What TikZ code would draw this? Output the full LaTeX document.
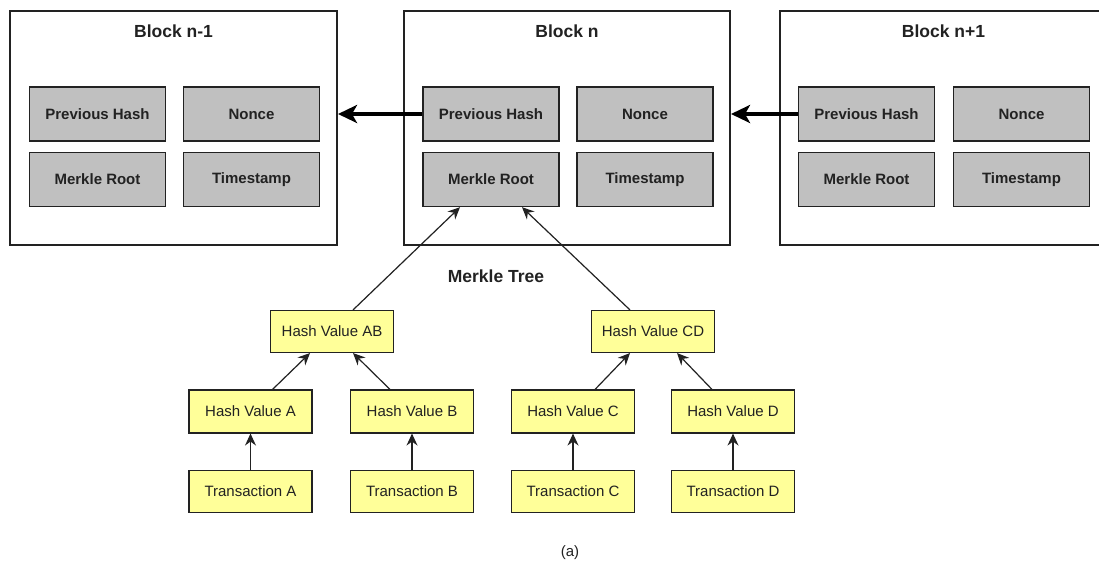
\documentclass[tikz,border=0pt]{standalone}
\usepackage{fontspec}
\setmainfont{Liberation Sans}
\usetikzlibrary{arrows.meta}
\definecolor{fieldgrey}{RGB}{192,192,192}
\definecolor{hashyellow}{RGB}{255,255,153}
\definecolor{edge}{RGB}{34,34,34}
\tikzset{
  blockbox/.style={draw=edge, line width=2pt, fill=white, minimum width=327pt, minimum height=234pt, inner sep=0pt},
  blocktitle/.style={font=\bfseries\fontsize{17.5}{21}\selectfont, text=edge},
  fieldbox/.style={draw=edge, line width=1.4pt, fill=fieldgrey, minimum width=136pt, minimum height=54pt, inner sep=0pt, font=\bfseries\fontsize{15}{18}\selectfont, text=edge},
  hashbox/.style={draw=edge, line width=1.1pt, fill=hashyellow, minimum width=123pt, minimum height=42pt, inner sep=0pt, font=\fontsize{15}{18}\selectfont, text=edge},
  linkarrow/.style={draw=black, line width=4.5pt, -{Stealth[length=19pt, width=18pt, inset=5pt]}},
  treearrow/.style={draw=edge, line width=1.2pt, -{Stealth[length=12pt, width=11pt, inset=4pt]}},
  plainlabel/.style={font=\fontsize{15}{18}\selectfont, text=edge}
}
\begin{document}
\begin{tikzpicture}[x=1pt, y=-1pt]
  \useasboundingbox (0,0) rectangle (1099,565);
  \clip (0,0) rectangle (1099,565);
  \fill[white] (0,0) rectangle (1099,565);

  % three consecutive blocks
  \node[blockbox] (blkA) at (173.5,128) {};
  \node[blockbox, minimum width=326pt] (blkB) at (567,128) {};
  \node[blockbox] (blkC) at (943.5,128) {};

  \node[blocktitle] (titleA) at (173.5,31) {Block n-1};
  \node[blocktitle] (titleB) at (567,31) {Block n};
  \node[blocktitle] (titleC) at (943.5,31) {Block n+1};

  % header fields of each block
  \node[fieldbox] (phA) at (97.5,114) {Previous Hash};
  \node[fieldbox] (ncA) at (251.5,114) {Nonce};
  \node[fieldbox] (mrA) at (97.5,179.5) {Merkle Root};
  \node[fieldbox] (tsA) at (251.5,179.5) {Timestamp};

  \node[fieldbox] (phB) at (491,114) {Previous Hash};
  \node[fieldbox] (ncB) at (645,114) {Nonce};
  \node[fieldbox] (mrB) at (491,179.5) {Merkle Root};
  \node[fieldbox] (tsB) at (645,179.5) {Timestamp};

  \node[fieldbox] (phC) at (866.5,114) {Previous Hash};
  \node[fieldbox] (ncC) at (1021.5,114) {Nonce};
  \node[fieldbox] (mrC) at (866.5,179.5) {Merkle Root};
  \node[fieldbox] (tsC) at (1021.5,179.5) {Timestamp};

  % chain links
  \draw[linkarrow] (phB.west) -- (blkA.east |- phB.west);
  \draw[linkarrow] (phC.west) -- (blkB.east |- phC.west);

  % Merkle tree
  \node[blocktitle] (treetitle) at (496,276) {Merkle Tree};

  \node[hashbox] (hAB) at (332,331.5) {Hash Value AB};
  \node[hashbox] (hCD) at (653,331.5) {Hash Value CD};

  \node[hashbox, minimum height=43pt] (hA) at (250.5,411.5) {Hash Value A};
  \node[hashbox, minimum height=43pt] (hB) at (412,411.5) {Hash Value B};
  \node[hashbox, minimum height=43pt] (hC) at (573,411.5) {Hash Value C};
  \node[hashbox, minimum height=43pt] (hD) at (733,411.5) {Hash Value D};

  \node[hashbox] (tA) at (250.5,491.5) {Transaction A};
  \node[hashbox] (tB) at (412,491.5) {Transaction B};
  \node[hashbox] (tC) at (573,491.5) {Transaction C};
  \node[hashbox] (tD) at (733,491.5) {Transaction D};

  \draw[treearrow] (tA.north) -- (hA.south);
  \draw[treearrow] (tB.north) -- (hB.south);
  \draw[treearrow] (tC.north) -- (hC.south);
  \draw[treearrow] (tD.north) -- (hD.south);

  \draw[treearrow] ([xshift=22pt]hA.north) -- ([xshift=-22pt]hAB.south);
  \draw[treearrow] ([xshift=-22pt]hB.north) -- ([xshift=21pt]hAB.south);
  \draw[treearrow] ([xshift=22pt]hC.north) -- ([xshift=-23pt]hCD.south);
  \draw[treearrow] ([xshift=-21pt]hD.north) -- ([xshift=24pt]hCD.south);

  \draw[treearrow] ([xshift=21pt]hAB.north) -- ([xshift=-31pt]mrB.south);
  \draw[treearrow] ([xshift=-23pt]hCD.north) -- ([xshift=31pt]mrB.south);

  \node[plainlabel] (caption) at (570,553) {(a)};
\end{tikzpicture}
\end{document}
